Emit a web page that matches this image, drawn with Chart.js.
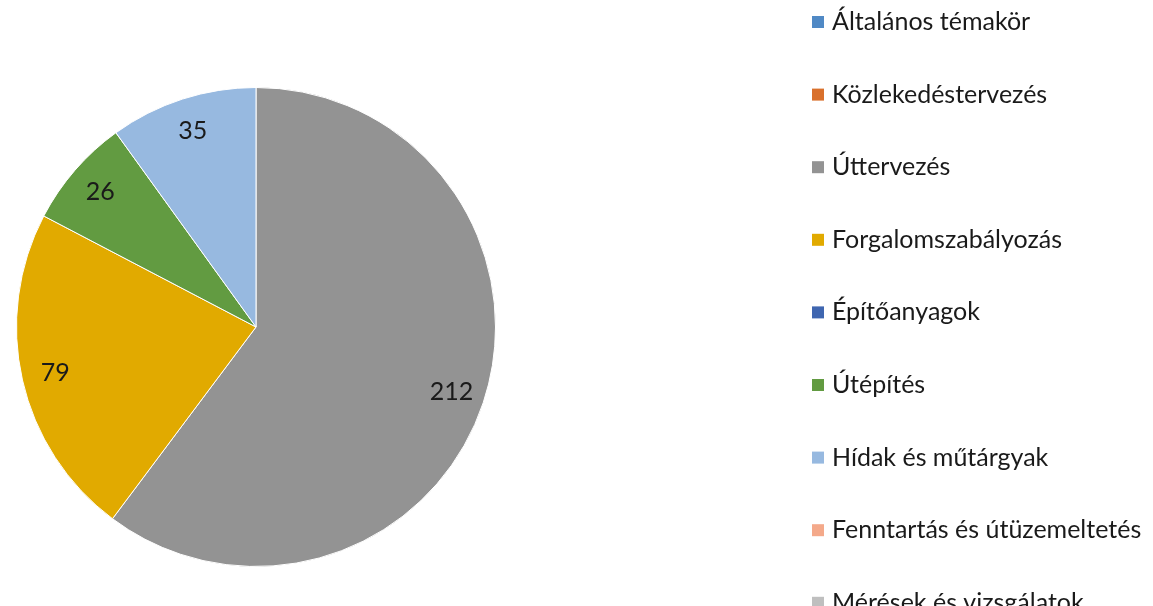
<!DOCTYPE html>
<html><head><meta charset="utf-8">
<script src="https://cdn.jsdelivr.net/npm/chart.js@4/dist/chart.umd.min.js"></script>
<style>html,body{margin:0;padding:0;background:#fff;overflow:hidden}#wrap{position:relative;width:1153px;height:606px}</style>
</head><body><div id="wrap"><canvas id="c" width="1153" height="606"></canvas></div>
<script>
const categories = ["Általános témakör","Közlekedéstervezés","Úttervezés","Forgalomszabályozás","Építőanyagok","Útépítés","Hídak és műtárgyak","Fenntartás és útüzemeltetés","Mérések és vizsgálatok"];
const values = [0,0,212,79,0,26,35,0,0];
const colors = ["#5089C5","#D9702C","#939393","#E1AA00","#3F66B0","#629B41","#97B9E0","#F4A98A","#BFBFBF"];

const FONT = "Lato, 'Open Sans', sans-serif";

const labelPlugin = {
  id: 'sliceLabels',
  afterDatasetsDraw(chart) {
    const ctx = chart.ctx;
    const meta = chart.getDatasetMeta(0);
    ctx.save();
    ctx.font = "25px " + FONT;
    ctx.fillStyle = "#1a1a1a";
    ctx.textAlign = "center";
    ctx.textBaseline = "middle";
    meta.data.forEach((arc, i) => {
      const v = values[i];
      if (!v) return;
      const p = arc.getProps(['x','y','startAngle','endAngle','outerRadius'], true);
      const mid = (p.startAngle + p.endAngle) / 2;
      const r = p.outerRadius * 0.86;
      ctx.fillText(String(v), p.x + Math.cos(mid) * r, p.y + Math.sin(mid) * r);
    });
    ctx.restore();
  }
};

const legendPlugin = {
  id: 'sideLegend',
  afterDraw(chart) {
    const ctx = chart.ctx;
    ctx.save();
    ctx.font = "25px " + FONT;
    ctx.textBaseline = "middle";
    ctx.textAlign = "left";
    categories.forEach((lab, i) => {
      const y = 22 + i * 72.6;
      ctx.fillStyle = colors[i];
      ctx.fillRect(812, y - 6, 12, 12);
      ctx.fillStyle = "#1a1a1a";
      ctx.fillText(lab, 832, y);
    });
    ctx.restore();
  }
};

new Chart(document.getElementById('c'), {
  type: 'pie',
  data: {
    labels: categories,
    datasets: [{
      data: values,
      backgroundColor: colors,
      borderColor: '#ffffff',
      borderWidth: 1
    }]
  },
  options: {
    responsive: false,
    animation: false,
    layout: { padding: { left: 16, right: 657, top: 87, bottom: 39 } },
    plugins: { legend: { display: false }, tooltip: { enabled: false }, title: { display: false } }
  },
  plugins: [labelPlugin, legendPlugin]
});
</script></body></html>
